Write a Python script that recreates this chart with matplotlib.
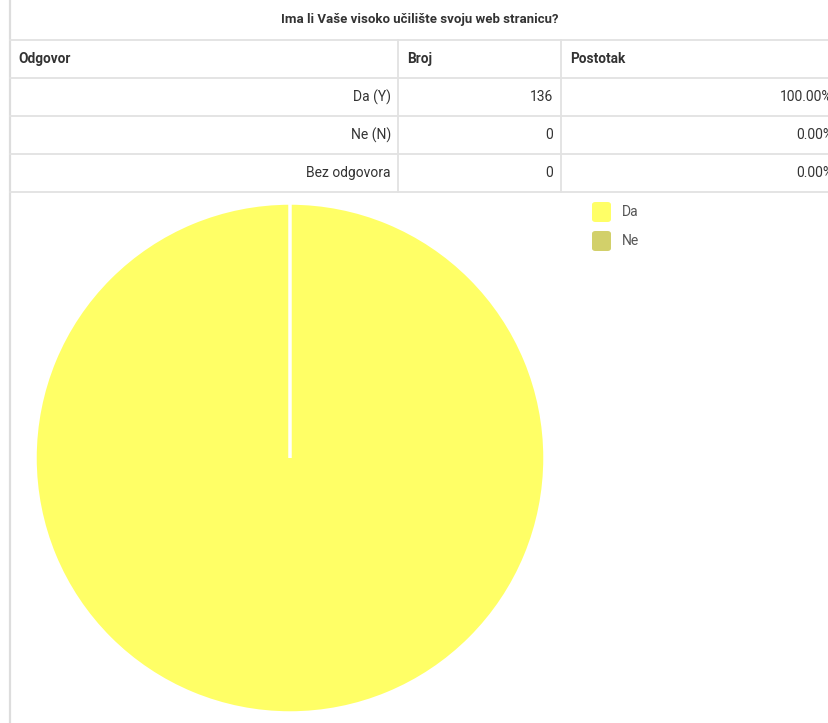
import matplotlib
matplotlib.use("Agg")
import matplotlib.pyplot as plt
from matplotlib.lines import Line2D
from matplotlib.patches import FancyBboxPatch

plt.rcParams['font.family'] = ['Roboto', 'DejaVu Sans']

title = "Ima li Vaše visoko učilište svoju web stranicu?"
headers = ["Odgovor", "Broj", "Postotak"]
answers = ["Da (Y)", "Ne (N)", "Bez odgovora"]
counts = [136, 0, 0]
percents = ["100.00%", "0.00%", "0.00%"]
pie_labels = ["Da", "Ne"]
pie_values = [136, 0]
pie_colors = ["#FFFF66", "#D2D06A"]

W, H = 829, 723
fig = plt.figure(figsize=(W / 100, H / 100), dpi=100)
fig.patch.set_facecolor("white")

def fx(x):
    return x / W

def fy(y):
    return 1 - y / H

line_col = "#E2E2E2"
txt_col = "#333333"

# left border
fig.add_artist(Line2D([fx(10.5), fx(10.5)], [fy(0), fy(723)], color="#DDDDDD", lw=1.6))
# horizontal lines
for y in [40, 78, 116, 154, 192]:
    fig.add_artist(Line2D([fx(10), fx(829)], [fy(y), fy(y)], color=line_col, lw=1.3))
# vertical lines
for x in [398, 561]:
    fig.add_artist(Line2D([fx(x), fx(x)], [fy(40), fy(192)], color=line_col, lw=1.3))

fig.text(fx(420), fy(20), title, ha="center", va="center", fontsize=9.5,
         fontweight="bold", color=txt_col)
for x, h in zip([18, 407, 570], headers):
    fig.text(fx(x), fy(59), h, ha="left", va="center", fontsize=9.8,
             fontweight="bold", color=txt_col)
for i, (a, c, p) in enumerate(zip(answers, counts, percents)):
    yc = 97 + 38 * i
    fig.text(fx(391), fy(yc), a, ha="right", va="center", fontsize=10, color=txt_col)
    fig.text(fx(553), fy(yc), str(c), ha="right", va="center", fontsize=10, color=txt_col)
    fig.text(fx(833), fy(yc), p, ha="right", va="center", fontsize=10, color=txt_col)

# pie
cx, cy, r = 290, 458, 255
ax = fig.add_axes([fx(cx - r), fy(cy + r), 2 * r / W, 2 * r / H])
ax.pie(pie_values, colors=pie_colors, startangle=90, counterclock=False,
       wedgeprops=dict(edgecolor="white", linewidth=2.5))
ax.set_xlim(-1, 1)
ax.set_ylim(-1, 1)
ax.set_aspect("auto")
ax.axis("off")

# legend
for i, (lab, col) in enumerate(zip(pie_labels, pie_colors)):
    yc = 212 + 29 * i
    fig.add_artist(FancyBboxPatch((fx(592), fy(yc + 10)), 19 / W, 20 / H,
                                  boxstyle="round,pad=0,rounding_size=0.004",
                                  facecolor=col, edgecolor="none",
                                  transform=fig.transFigure))
    fig.text(fx(622), fy(yc), lab, ha="left", va="center", fontsize=10, color="#555555")

fig.savefig("out.png", dpi=100)
